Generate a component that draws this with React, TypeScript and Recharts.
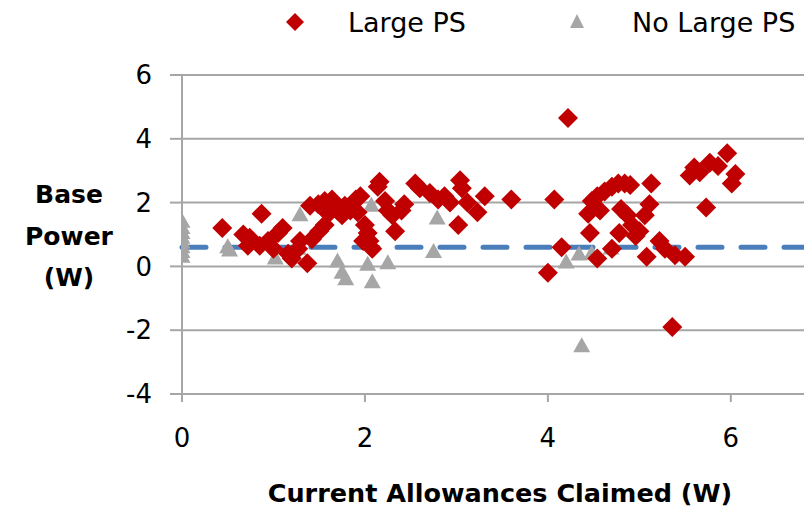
import { CartesianGrid, ReferenceLine, Scatter, ScatterChart, XAxis, YAxis } from "recharts";

const xTicks = [0, 2, 4, 6];
const yTicks = [-4, -2, 0, 2, 4, 6];
const baseline = 0.6;

const largePsX = [
  0.44, 0.67, 0.72, 0.74, 0.85, 0.87, 0.94, 1.0, 1.05, 1.1, 1.16, 1.2, 1.27, 1.37, 1.29,
  1.4, 1.49, 1.56, 1.64, 1.42, 1.5, 1.56, 1.6, 1.7, 1.78, 1.84, 1.9, 1.95, 1.75, 1.92,
  2.0, 2.03, 2.05, 2.08, 1.98, 2.16, 2.14, 2.22, 2.25, 2.3, 2.33, 2.4, 2.43,
  2.55, 2.6, 2.71, 2.8, 2.87, 2.93, 3.04, 3.06, 3.02, 3.12, 3.23, 3.31, 3.6,
  4.07, 4.0, 4.22, 4.15,
  4.44, 4.48, 4.54, 4.57, 4.62, 4.7, 4.77, 4.84, 4.9, 4.46, 4.54, 4.7, 4.78, 4.8, 4.87,
  4.92, 4.96, 5.0, 5.06, 5.11, 5.13, 5.08, 5.22, 5.28, 5.39, 5.5, 5.36,
  5.55, 5.6, 5.66, 5.77, 5.86, 5.96, 6.01, 6.05, 5.73,
];
const largePsY = [
  1.2, 1.0, 0.65, 0.9, 0.65, 1.65, 0.8, 0.55, 1.05, 1.2, 0.4, 0.25, 0.55, 0.1, 0.8,
  1.9, 1.95, 2.05, 2.1, 0.85, 1.1, 1.3, 1.65, 1.75, 1.9, 1.75, 2.1, 2.2, 1.6, 1.7,
  1.3, 1.05, 0.8, 0.55, 0.8, 2.65, 2.5, 2.05, 1.75, 1.6, 1.1, 1.75, 1.95,
  2.6, 2.45, 2.3, 2.1, 2.2, 2.0, 2.7, 2.45, 1.3, 2.0, 1.7, 2.2, 2.1,
  2.1, -0.2, 4.65, 0.6,
  1.65, 2.05, 2.2, 1.75, 2.35, 2.5, 2.6, 2.6, 2.55, 1.05, 0.25, 0.55, 1.05, 1.8, 1.6,
  1.3, 0.95, 1.1, 1.6, 1.95, 2.6, 0.3, 0.8, 0.55, 0.35, 0.3, -1.9,
  2.85, 3.1, 2.95, 3.25, 3.15, 3.55, 2.6, 2.9, 1.85,
];

const noLargePsX = [
  0, 0, 0, 0, 0, 0, 0, 0,
  0.5, 0.52, 1.02, 1.29, 1.27, 1.7, 1.75, 1.79,
  2.07, 2.03, 2.08, 2.25, 2.79, 2.75,
  4.2, 4.34, 4.37, 4.48, 4.69,
];
const noLargePsY = [
  0.3, 0.45, 0.6, 0.75, 0.9, 1.05, 1.2, 1.4,
  0.6, 0.5, 0.25, 1.6, 0.55, 0.15, -0.2, -0.4,
  1.9, 0.05, -0.5, 0.1, 1.5, 0.45,
  0.12, 0.37, -2.5, 0.4, 0.56,
];

const largePs = largePsX.map((x, i) => ({ x, y: largePsY[i] }));
const noLargePs = noLargePsX.map((x, i) => ({ x, y: noLargePsY[i] }));

const RED = "#c00000";
const GREY = "#a6a6a6";
const FONT = "'DejaVu Sans', sans-serif";

const Diamond = (props: any) => {
  const { cx, cy } = props;
  const r = 10;
  return <path d={`M${cx},${cy - r}L${cx + r},${cy}L${cx},${cy + r}L${cx - r},${cy}Z`} fill={RED} />;
};

const Triangle = (props: any) => {
  const { cx, cy } = props;
  return <path d={`M${cx},${cy - 9}L${cx + 8.5},${cy + 6}L${cx - 8.5},${cy + 6}Z`} fill={GREY} />;
};

const YTitle = () => (
  <text x={69} textAnchor="middle" fontFamily={FONT} fontWeight="bold" fontSize={25} fill="#000">
    <tspan x={69} y={203}>Base</tspan>
    <tspan x={69} y={245}>Power</tspan>
    <tspan x={69} y={286}>(W)</tspan>
  </text>
);

const XTitle = () => (
  <text x={500} y={502} textAnchor="middle" fontFamily={FONT} fontWeight="bold" fontSize={25.5} fill="#000">
    Current Allowances Claimed (W)
  </text>
);

export default function App() {
  return (
    <div style={{ position: "absolute", left: 0, top: 0, width: 804, height: 510, background: "#fff", overflow: "hidden" }}>
      <svg width={804} height={50} style={{ position: "absolute", left: 0, top: 0 }}>
        <path d="M295,13L304,22L295,31L286,22Z" fill={RED} />
        <text x={348} y={32} fontFamily={FONT} fontSize={27} fill="#000">Large PS</text>
        <path d="M577,14L584,28L570,28Z" fill={GREY} />
        <text x={632} y={32} fontFamily={FONT} fontSize={27} fill="#000">No Large PS</text>
      </svg>
      <ScatterChart width={804} height={510} margin={{ top: 75, right: 0, left: 122, bottom: 56 }}>
        <CartesianGrid horizontal vertical={false} stroke={GREY} strokeWidth={2} />
        <XAxis
          type="number"
          dataKey="x"
          domain={[0, 6.8]}
          ticks={xTicks}
          allowDataOverflow
          height={60}
          stroke={GREY}
          strokeWidth={2}
          tickSize={8}
          tick={{ fill: "#000", fontSize: 26, fontFamily: FONT, dy: 25 }}
          label={<XTitle />}
        />
        <YAxis
          type="number"
          dataKey="y"
          domain={[-4, 6]}
          ticks={yTicks}
          width={60}
          stroke={GREY}
          strokeWidth={2}
          tickSize={12}
          tick={{ fill: "#000", fontSize: 26, fontFamily: FONT, dx: -16 }}
          label={<YTitle />}
        />
        <ReferenceLine y={baseline} stroke="#4a7ebb" strokeWidth={5} strokeDasharray="24 19" strokeLinecap="round" />
        <Scatter name="No Large PS" data={noLargePs} shape={<Triangle />} isAnimationActive={false} />
        <Scatter name="Large PS" data={largePs} shape={<Diamond />} isAnimationActive={false} />
      </ScatterChart>
    </div>
  );
}
